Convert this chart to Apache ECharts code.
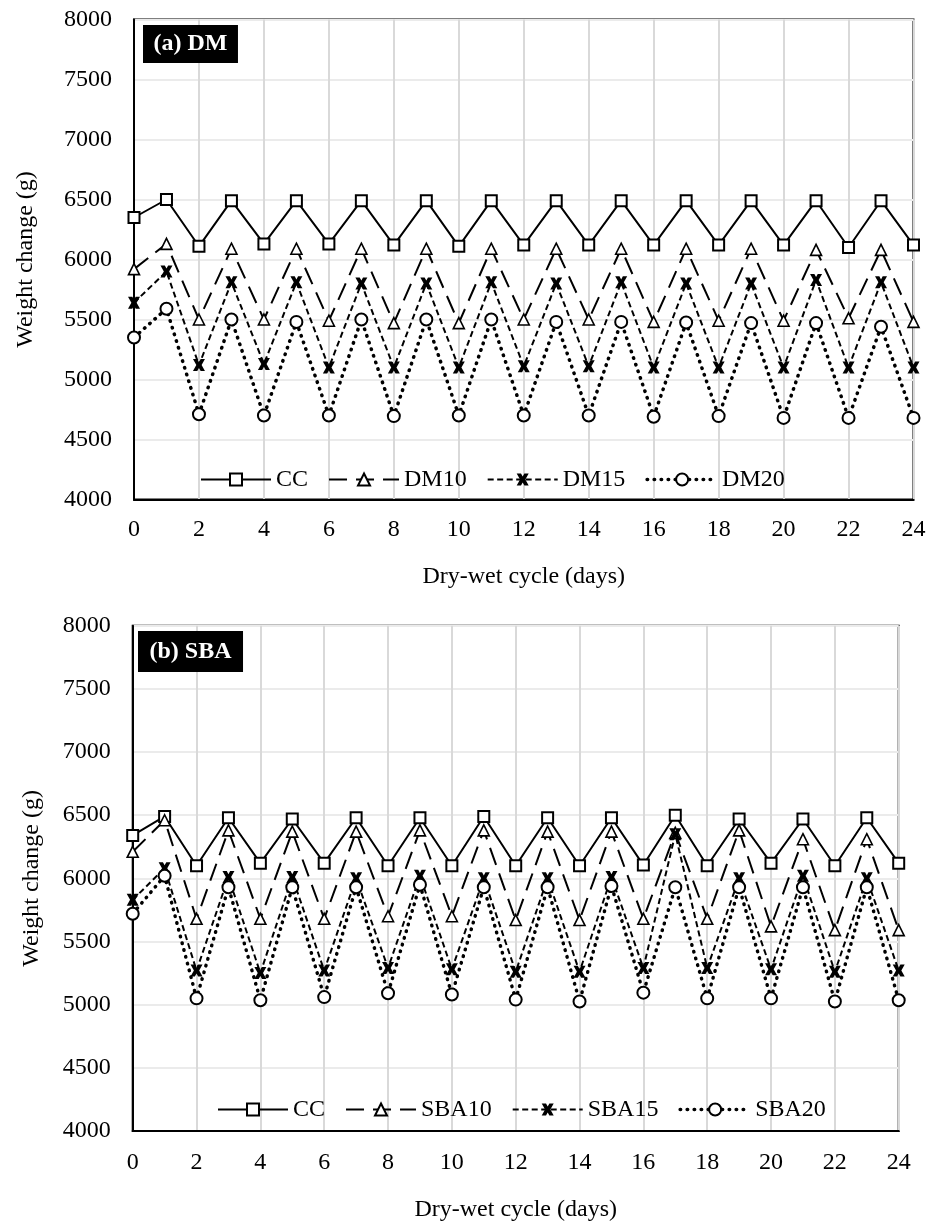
<!DOCTYPE html>
<html>
<head>
<meta charset="utf-8">
<script src="https://cdn.jsdelivr.net/npm/echarts@6/dist/echarts.min.js"></script>
<style>
html,body{margin:0;padding:0;background:#fff;}
#chart{width:929px;height:1223px;}
</style>
</head>
<body>
<div id="chart"></div>
<script>
// ---- data ----
const days = [0,1,2,3,4,5,6,7,8,9,10,11,12,13,14,15,16,17,18,19,20,21,22,23,24];
const xTicks = [0,2,4,6,8,10,12,14,16,18,20,22,24];
const yTicks = [4000,4500,5000,5500,6000,6500,7000,7500,8000];

const dmCC  = [6350,6500,6110,6490,6130,6490,6130,6490,6120,6490,6110,6490,6120,6490,6120,6490,6120,6490,6120,6490,6120,6490,6100,6490,6120];
const dm10  = [5920,6130,5500,6090,5500,6090,5490,6090,5470,6090,5470,6090,5500,6090,5500,6090,5480,6090,5490,6090,5490,6080,5510,6080,5480];
const dm15  = [5640,5900,5120,5810,5130,5810,5100,5800,5100,5800,5100,5810,5110,5800,5110,5810,5100,5800,5100,5800,5100,5830,5100,5810,5100];
const dm20  = [5350,5590,4710,5500,4700,5480,4700,5500,4695,5500,4700,5500,4700,5480,4700,5480,4690,5475,4695,5470,4680,5470,4680,5440,4680];

const sbaCC = [6340,6490,6100,6480,6120,6470,6120,6480,6100,6480,6100,6490,6100,6480,6100,6480,6105,6500,6100,6470,6120,6470,6100,6480,6120];
const sba10 = [6210,6460,5680,6380,5680,6370,5680,6370,5700,6380,5700,6380,5670,6370,5670,6370,5680,6360,5680,6380,5620,6310,5590,6310,5590];
const sba15 = [5830,6080,5270,6010,5250,6010,5270,6000,5290,6020,5280,6000,5260,6000,5260,6010,5290,6350,5290,6000,5280,6020,5260,6000,5270];
const sba20 = [5720,6020,5050,5930,5035,5930,5060,5930,5090,5950,5080,5930,5040,5930,5025,5940,5095,5930,5050,5930,5050,5930,5025,5930,5035];

const namesA = ['CC','DM10','DM15','DM20'];
const namesB = ['CC','SBA10','SBA15','SBA20'];
const titles = ['(a) DM','(b) SBA'];

// ---- styling ----
const FONT = 'Liberation Serif';
const xPath = 'path://M0,0 L3.6,0 L5,2.6 L6.4,0 L10,0 L7.2,5 L10,10 L6.4,10 L5,7.4 L3.6,10 L0,10 L2.8,5 Z';
const styles = [
  {symbol:'rect', symbolSize:11, line:'solid', fill:'#fff', bw:2},
  {symbol:'triangle', symbolSize:11, line:[18,9], fill:'#fff', bw:1.6},
  {symbol:xPath, symbolSize:12, line:[6,3.5], fill:'#000', bw:0},
  {symbol:'circle', symbolSize:12, line:[0.5,6.5], fill:'#fff', bw:2, cap:'round', lw:3.5}
];

function pairs(arr){ return days.map((d,i)=>[d,arr[i]]); }

function makeSeries(names, datasets, gi){
  return names.map((n,i)=>{
    const s = styles[i];
    return {
      type:'line', name:n, xAxisIndex:gi, yAxisIndex:gi,
      data:pairs(datasets[i]),
      symbol:s.symbol, symbolSize:s.symbolSize, showAllSymbol:true,
      lineStyle:{color:'#000', width:s.lw||2, type:s.line, cap:s.cap||'butt'},
      itemStyle:{color:s.fill, borderColor:'#000', borderWidth:s.bw},
      emphasis:{disabled:true},
      animation:false, z:2+i
    };
  });
}

const grids = [
  {left:134, top:19.5, width:779.5, height:480},
  {left:132.7, top:625.7, width:766, height:505.3}
];

function xAxis(gi, nameGap, margin){
  return {
    type:'value', gridIndex:gi, min:0, max:24, interval:2,
    name:'Dry-wet cycle (days)', nameLocation:'middle', nameGap:nameGap,
    nameTextStyle:{fontFamily:FONT, fontSize:24, color:'#000'},
    axisLine:{show:true, onZero:false, lineStyle:{color:'#000', width:2}},
    axisTick:{show:false},
    axisLabel:{fontFamily:FONT, fontSize:24, color:'#000', margin:margin, formatter:v=>String(v)},
    splitLine:{show:true, lineStyle:{color:'#d9d9d9', width:2}}
  };
}
function yAxis(gi, nameGap){
  return {
    type:'value', gridIndex:gi, min:4000, max:8000, interval:500,
    name:'Weight change (g)', nameLocation:'middle', nameGap:nameGap,
    nameTextStyle:{fontFamily:FONT, fontSize:24, color:'#000'},
    axisLine:{show:true, lineStyle:{color:'#000', width:2}},
    axisTick:{show:false},
    axisLabel:{fontFamily:FONT, fontSize:24, color:'#000', margin:22, formatter:v=>String(v)},
    splitLine:{show:true, lineStyle:{color:'#ebebeb', width:2}}
  };
}

const legendCommon = {itemWidth:70, itemHeight:15, itemGap:20, padding:0, selectedMode:false,
  lineStyle:{width:'inherit'},
  textStyle:{fontFamily:FONT, fontSize:24, color:'#000'}};

const chart = echarts.init(document.getElementById('chart'), null, {renderer:'canvas'});
chart.setOption({
  backgroundColor:'#fff',
  animation:false,
  title:[
    {text:titles[0], left:143, top:25, backgroundColor:'#000', padding:[7,10.5],
     textStyle:{color:'#fff', fontFamily:FONT, fontSize:24, fontWeight:'bold', lineHeight:24}},
    {text:titles[1], left:138, top:631, backgroundColor:'#000', padding:[8.5,11.5],
     textStyle:{color:'#fff', fontFamily:FONT, fontSize:24, fontWeight:'bold', lineHeight:24}}
  ],
  grid: grids.map(g=>Object.assign({show:true, borderColor:'#000', borderWidth:2, backgroundColor:'transparent'}, g)),
  xAxis:[xAxis(0,65,18), xAxis(1,67,20)],
  yAxis:[yAxis(0,96), yAxis(1,89)],
  legend:[
    Object.assign({data:namesA, left:200, top:467.5}, legendCommon),
    Object.assign({data:namesB, left:217, top:1097.5}, legendCommon)
  ],
  series:[].concat(
    makeSeries(namesA,[dmCC,dm10,dm15,dm20],0),
    makeSeries(namesB,[sbaCC,sba10,sba15,sba20],1)
  )
});
</script>
</body>
</html>
